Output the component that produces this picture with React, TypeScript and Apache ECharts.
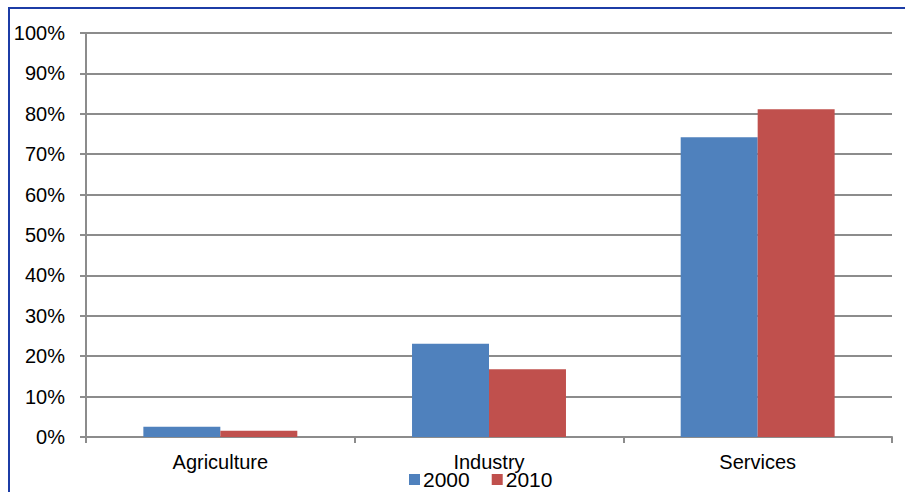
import React, { useEffect, useRef } from "react";
import * as echarts from "echarts";

const categories = ["Agriculture", "Industry", "Services"];
const seriesNames = ["2000", "2010"];
const values2000 = [2.55, 23.1, 74.2];
const values2010 = [1.56, 16.8, 81.1];
const yTicks = [0, 10, 20, 30, 40, 50, 60, 70, 80, 90, 100];

const COLORS = ["#4f81bd", "#c0504d"];
const FONT = "'Liberation Sans', Arial, sans-serif";

export default function App() {
  const ref = useRef<HTMLDivElement>(null);

  useEffect(() => {
    document.body.style.margin = "0";
    if (!ref.current) return;
    const chart = echarts.init(ref.current, undefined, { renderer: "svg" });
    const axisGray = "#8c8c8c";
    chart.setOption({
      animation: false,
      backgroundColor: "#ffffff",
      textStyle: { fontFamily: FONT },
      grid: { left: 86, right: 13, top: 33, bottom: 55, containLabel: false },
      legend: {
        data: seriesNames,
        top: 469,
        left: 409,
        padding: 0,
        itemWidth: 11,
        itemHeight: 11,
        itemGap: 22,
        icon: "rect",
        textStyle: { fontSize: 21, color: "#000", fontFamily: FONT, padding: [0, 0, 0, -2] },
      },
      xAxis: {
        type: "category",
        data: categories,
        axisLine: { lineStyle: { color: axisGray, width: 2 } },
        axisTick: { show: true, length: 6, alignWithLabel: false, lineStyle: { color: axisGray, width: 2 } },
        axisLabel: { fontSize: 20, color: "#000", margin: 15, fontFamily: FONT },
      },
      yAxis: {
        type: "value",
        min: yTicks[0],
        max: yTicks[yTicks.length - 1],
        interval: 10,
        axisLine: { show: true, lineStyle: { color: axisGray, width: 2 } },
        axisTick: { show: true, length: 6, lineStyle: { color: axisGray, width: 2 } },
        splitLine: { show: true, lineStyle: { color: axisGray, width: 2 } },
        axisLabel: {
          fontSize: 20,
          color: "#000",
          margin: 21,
          fontFamily: FONT,
          formatter: (v: number) => `${v}%`,
        },
      },
      series: [
        {
          name: seriesNames[0],
          type: "bar",
          data: values2000,
          barGap: "0%",
          barCategoryGap: "42.7%",
          itemStyle: { color: COLORS[0] },
        },
        {
          name: seriesNames[1],
          type: "bar",
          data: values2010,
          barGap: "0%",
          barCategoryGap: "42.7%",
          itemStyle: { color: COLORS[1] },
        },
      ],
      graphic: [
        {
          type: "rect",
          shape: { x: 9, y: 8, width: 1000, height: 600 },
          style: { fill: "none", stroke: "#1c3ca6", lineWidth: 2 },
          silent: true,
          z: 100,
        },
      ],
    });
    return () => chart.dispose();
  }, []);

  return <div ref={ref} style={{ width: 905, height: 492 }} />;
}
